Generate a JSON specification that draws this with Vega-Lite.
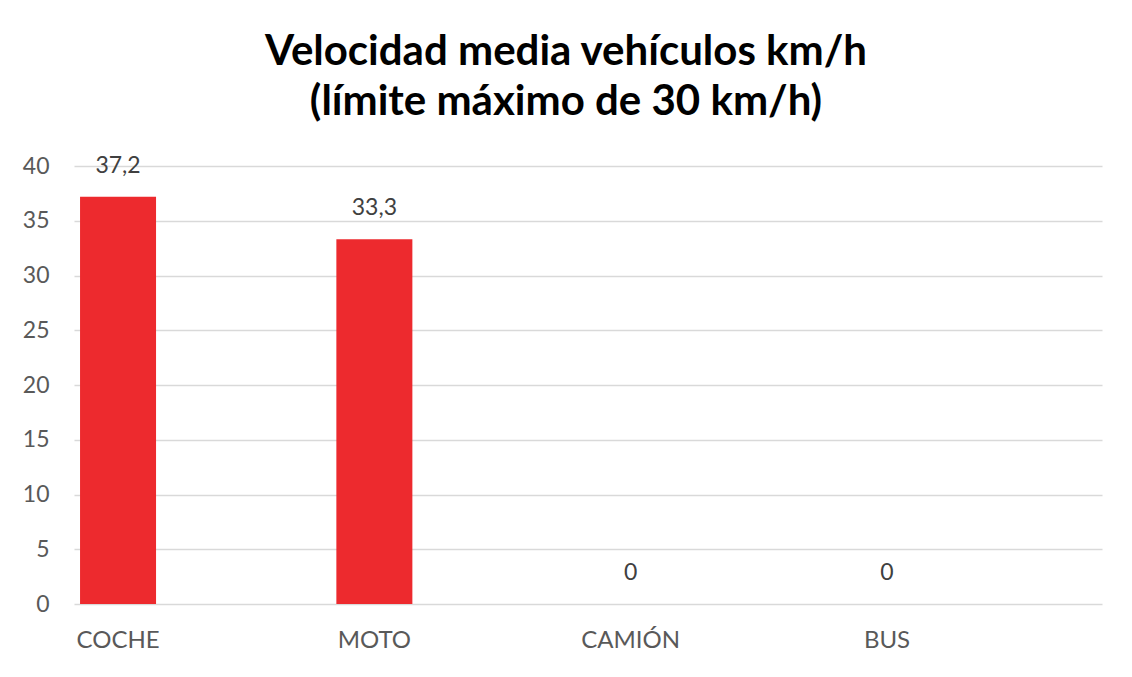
{
  "$schema": "https://vega.github.io/schema/vega-lite/v6.json",
  "autosize": "none",
  "padding": {"left": 74, "top": 166, "right": 30, "bottom": 73},
  "width": 1028,
  "height": 438,
  "background": "white",
  "config": {
    "view": {"stroke": null},
    "locale": {"number": {"decimal": ",", "thousands": ".", "grouping": [3], "currency": ["", " €"]}}
  },
  "title": {
    "text": ["Velocidad media vehículos km/h", "(límite máximo de 30 km/h)"],
    "font": "Lato",
    "fontSize": 42,
    "fontWeight": "bold",
    "color": "#000000",
    "lineHeight": 50,
    "anchor": "middle",
    "dx": -22,
    "offset": 31
  },
  "data": {
    "values": [
      {"vehiculo": "COCHE", "velocidad": 37.2},
      {"vehiculo": "MOTO", "velocidad": 33.3},
      {"vehiculo": "CAMIÓN", "velocidad": 0},
      {"vehiculo": "BUS", "velocidad": 0}
    ]
  },
  "encoding": {
    "x": {
      "field": "vehiculo",
      "type": "nominal",
      "sort": null,
      "scale": {"paddingInner": 0.7035, "paddingOuter": 0.357, "align": 0.033},
      "axis": {
        "title": null,
        "domain": false,
        "ticks": false,
        "labelAngle": 0,
        "labelFont": "Lato",
        "labelFontSize": 24,
        "labelColor": "#595959",
        "labelBaseline": "alphabetic",
        "labelPadding": 43
      }
    },
    "y": {
      "field": "velocidad",
      "type": "quantitative",
      "scale": {"domain": [0, 40], "nice": false},
      "axis": {
        "title": null,
        "values": [0, 5, 10, 15, 20, 25, 30, 35, 40],
        "domain": false,
        "ticks": false,
        "grid": true,
        "gridColor": "#d9d9d9",
        "gridWidth": 1.3,
        "labelFont": "Lato",
        "labelFontSize": 23,
        "labelColor": "#595959",
        "labelPadding": 25
      }
    }
  },
  "layer": [
    {"mark": {"type": "bar", "color": "#ED2A2E"}},
    {
      "mark": {"type": "text", "font": "Lato", "fontSize": 23, "color": "#404040", "baseline": "alphabetic", "dy": -24},
      "encoding": {"text": {"field": "velocidad", "type": "quantitative", "format": ".3~g"}}
    }
  ]
}
